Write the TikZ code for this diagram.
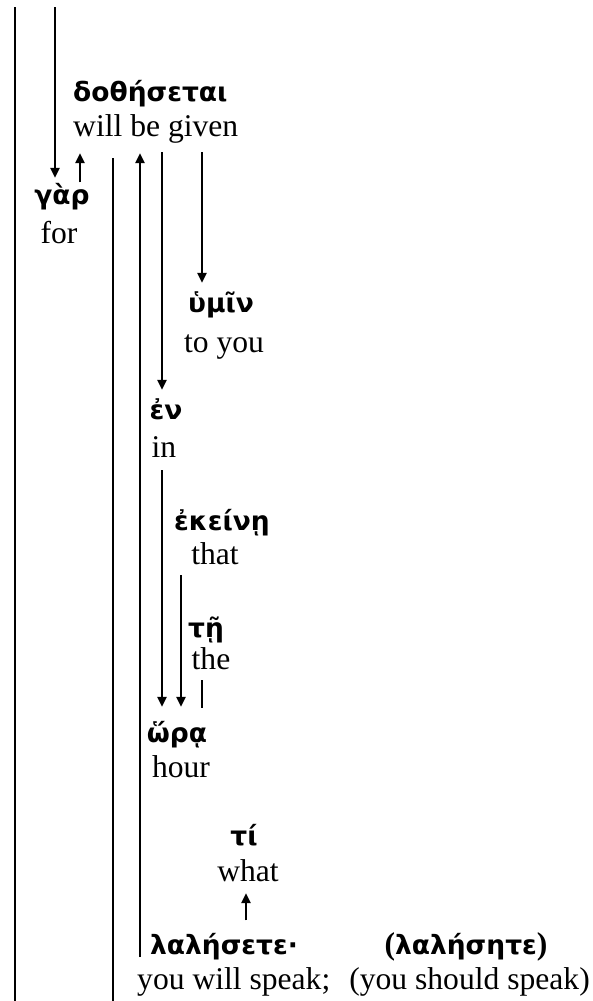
\documentclass[tikz,border=0pt]{standalone}
\usepackage{fontspec}
\setmainfont{Liberation Serif}
\newfontfamily\gkfont{DejaVu Sans}
\usetikzlibrary{arrows.meta}
\newcommand{\rmparen}[1]{{\rmfamily\fontsize{31.6}{38}\selectfont #1}}
\tikzset{
  gk/.style={font=\gkfont\bfseries\fontsize{26.5}{32}\selectfont, inner sep=0pt, text height=22pt, text depth=7pt},
  en/.style={font=\fontsize{31.6}{38}\selectfont, inner sep=0pt, text height=21pt, text depth=7pt},
  ln/.style={line width=2.3pt},
  arr/.style={ln, -{Triangle[width=9pt,length=10pt]}},
}
\begin{document}
\begin{tikzpicture}[x=1pt,y=-1pt]
\useasboundingbox (0,0) rectangle (592,1001);
% x positions of the vertical lines
\coordinate (x15) at (15,0);
\coordinate (x55) at (55,0);
\coordinate (x80) at (80,0);
\coordinate (x113) at (113,0);
\coordinate (x140) at (140,0);
\coordinate (x162) at (162,0);
\coordinate (x181) at (181,0);
\coordinate (x202) at (202,0);
\coordinate (x246) at (246,0);
\coordinate (t1) at (15,7);
\coordinate (t2) at (55,7);
\coordinate (b1) at (15,1001);
\coordinate (b2) at (113,1001);
% words
\node[gk, anchor=west] (g1) at (73,94) {δοθήσεται};
\node[en, anchor=west] (e1) at (73,129) {will be given};
\node[gk] (g2) at (62,197) {γὰρ};
\node[en] (e2) at (59,236) {for};
\node[gk] (g3) at (221,305) {ὑμῖν};
\node[en] (e3) at (224,345) {to you};
\node[gk] (g4) at (166,412) {ἐν};
\node[en] (e4) at (164,450) {in};
\node[gk] (g5) at (222,523) {ἐκείνῃ};
\node[en] (e5) at (215,557) {that};
\node[gk] (g6) at (206,630) {τῇ};
\node[en] (e6) at (211,662) {the};
\node[gk] (g7) at (177,735) {ὥρᾳ};
\node[en] (e7) at (181,770) {hour};
\node[gk] (g8) at (244,838) {τί};
\node[en] (e8) at (248,874) {what};
\node[gk, anchor=west] (g9) at (150,947) {λαλήσετε·};
\node[gk] (g10) at (466,947) {\rmparen{(}λαλήσητε\rmparen{)}};
\node[en, anchor=west] (e9) at (137,982) {you will speak;};
\node[en, anchor=east] (e10) at (590,982) {(you should speak)};
% lines
\draw[ln] (t1) -- (b1);
\draw[arr, shorten >=4.5pt] (t2) -- (g2.north -| x55);
\draw[arr, shorten >=10pt] (g2.north -| x80) -- (e1.south -| x80);
\draw[ln, shorten <=15pt] (e1.south -| x113) -- (b2);
\draw[arr, shorten <=4.5pt, shorten >=10pt] (g9.south -| x140) -- (e1.south -| x140);
\draw[arr, shorten <=9pt, shorten >=7.5pt] (e1.south -| x162) -- (g4.north -| x162);
\draw[arr, shorten <=9pt, shorten >=7.5pt] (e1.south -| x202) -- (g3.north -| x202);
\draw[arr, shorten <=6pt, shorten >=13.5pt] (e4.south -| x162) -- (g7.north -| x162);
\draw[arr, shorten <=4pt, shorten >=13.5pt] (e5.south -| x181) -- (g7.north -| x181);
\draw[line width=1.2pt, shorten <=4pt, shorten >=12.5pt] (e6.south -| x202) -- (g7.north -| x202);
\draw[arr, shorten <=12pt, shorten >=5pt] (g9.north -| x246) -- (e8.south -| x246);
\end{tikzpicture}
\end{document}
